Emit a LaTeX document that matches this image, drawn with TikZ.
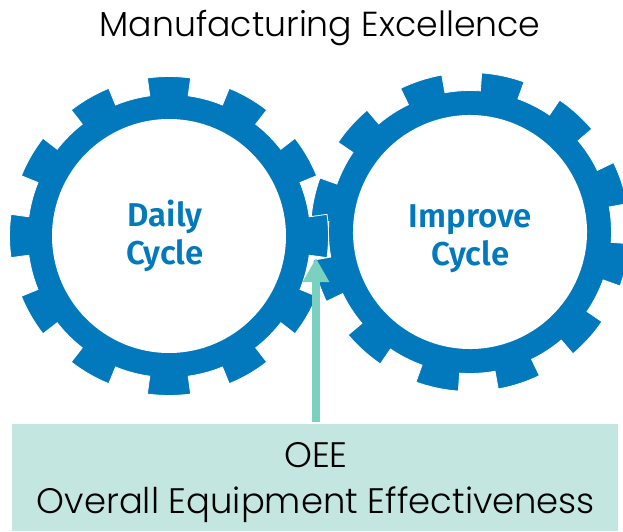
\documentclass[tikz,border=0pt]{standalone}
\usepackage{fontspec}
\setmainfont{Poppins Light}
\newfontfamily\gearfont{Fira Sans SemiBold}
\usetikzlibrary{arrows.meta}
\definecolor{gearblue}{HTML}{0279BC}
\definecolor{arrowteal}{HTML}{7AD1C0}
\definecolor{boxteal}{HTML}{C3E6E0}
\tikzset{
	gearwheel/.pic={
		\fill[gearblue, draw=white, line width=.8pt] (-7.8:159.5pt)
			foreach \a in {0,30,...,330} {
				arc[start angle=\a-7.8, end angle=\a+7.8, radius=159.5pt] -- (\a+7.8:141.5pt)
				arc[start angle=\a+7.8, end angle=\a+22.2, radius=141.5pt] -- (\a+22.2:159.5pt)
			} -- cycle;
		\fill[white] (0,0) circle[radius=117pt];
	},
	gearlabel/.style={align=center, text=gearblue, font=\gearfont\fontsize{33}{38}\selectfont},
	titlelabel/.style={font=\fontsize{34.7}{40}\selectfont},
	oeebox/.style={fill=boxteal, minimum width=606pt, minimum height=107pt, inner sep=0pt},
	oeelabel/.style={align=center, font=\fontsize{35.4}{46}\selectfont},
}
\begin{document}
\begin{tikzpicture}[x=1pt, y=1pt]
	\useasboundingbox (0,0) rectangle (623,531);
	\pic[rotate=18] at (470,299) {gearwheel};
	\pic at (169,295) {gearwheel};
	\node[gearlabel] (daily) at (165,295.5) {Daily\\Cycle};
	\node[gearlabel] (improve) at (470.5,292) {Improve\\Cycle};
	\node[titlelabel] (title) at (320,503) {Manufacturing Excellence};
	\node[oeebox] (oee) at (315,53.5) {};
	\node[oeelabel] (oeetext) at (316,48.5) {OEE\\Overall Equipment Effectiveness};
	\coordinate (tip) at (316,273);
	\draw[arrowteal, line width=8.5pt, -{Triangle[length=24pt, width=25pt]}, shorten <=2pt] (oee.north -| tip) -- (tip);
\end{tikzpicture}
\end{document}
